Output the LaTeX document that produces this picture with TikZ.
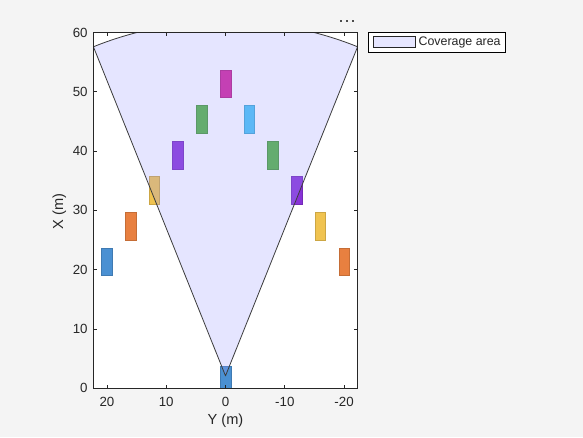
\documentclass[tikz,border=0pt]{standalone}
\usepackage{fontspec}
\setmainfont{Liberation Sans}
\usetikzlibrary{positioning, fit, backgrounds}

\definecolor{figbg}{RGB}{244,244,244}
\definecolor{axcol}{RGB}{38,38,38}
\definecolor{covfill}{RGB}{153,153,255}
\definecolor{covline}{RGB}{60,60,60}
\definecolor{carblue}{RGB}{74,144,210}
\definecolor{carorange}{RGB}{232,128,64}
\definecolor{caryellow}{RGB}{240,195,80}
\definecolor{carpurple}{RGB}{136,50,215}
\definecolor{cargreen}{RGB}{83,179,64}
\definecolor{carmagenta}{RGB}{211,35,155}
\definecolor{carcyan}{RGB}{72,195,243}

\begin{document}
\begin{tikzpicture}[
    font=\fontsize{13.3}{16}\selectfont,
    car/.style={fill=#1, draw=#1!85!black, line width=0.5pt},
    tick/.style={draw=axcol, line width=0.8pt},
    ticklabel/.style={text=axcol, inner sep=0pt},
    coverage/.style={fill=covfill, fill opacity=0.25, draw=covline, line width=0.8pt, line join=round},
    axislabel/.style={text=axcol, inner sep=0pt, font=\fontsize{14.6}{17}\selectfont},
    legendpatch/.style={draw=axcol, fill=covfill!25!white, minimum width=42.3pt, minimum height=10.6pt, inner sep=0pt, line width=0.8pt},
    legendtext/.style={text=axcol, inner sep=0pt, font=\fontsize{12.4}{15}\selectfont},
    legendbox/.style={draw=black, fill=white, line width=0.8pt, inner xsep=4.2pt, inner ysep=4pt},
    dotcol/.style={fill=black!70}
]

% Figure
\begin{scope}[on background layer]
\fill[figbg] (0,0) rectangle (583pt,437pt);
\end{scope}
\useasboundingbox (0,0) rectangle (583pt,437pt);

\begin{scope}[x=1pt, y=1pt]
\foreach \d in {341,347,353.3} \fill[dotcol] (\d-1.1,414.9) rectangle ++(2.2,2.2);
\end{scope}

\begin{scope}[shift={(225.5pt,48.7pt)}, x=-5.93pt, y=5.93pt]

% Axes
\coordinate (bl) at (22.28,0);
\coordinate (tr) at (-22.28,60);
\fill[white] (bl) rectangle (tr);

\begin{scope}
\clip (bl) rectangle (tr);
% Vehicles
\draw[car=carblue] (0.9,-1) rectangle (-0.9,3.7);
\draw[car=carblue] (20.9,19) rectangle (19.1,23.7);
\draw[car=carorange] (16.9,25) rectangle (15.1,29.7);
\draw[car=caryellow] (12.9,31) rectangle (11.1,35.7);
\draw[car=carpurple] (8.9,37) rectangle (7.1,41.7);
\draw[car=cargreen] (4.9,43) rectangle (3.1,47.7);
\draw[car=carmagenta] (0.9,49) rectangle (-0.9,53.7);
\draw[car=carcyan] (-3.1,43) rectangle (-4.9,47.7);
\draw[car=cargreen] (-7.1,37) rectangle (-8.9,41.7);
\draw[car=carpurple] (-11.1,31) rectangle (-12.9,35.7);
\draw[car=caryellow] (-15.1,25) rectangle (-16.9,29.7);
\draw[car=carorange] (-19.1,19) rectangle (-20.9,23.7);
% Coverage area
\path[coverage] (0,2.1) -- ++(68.13:59.8) arc[start angle=68.13, end angle=111.87, radius=59.8] -- cycle;
\end{scope}

% Ticks and labels
\foreach \t [count=\i] in {20,10,0,-10,-20} {
  \draw[tick] (\t,0) -- ++(0pt,3.5pt);
  \draw[tick] (\t,60) -- ++(0pt,-3.5pt);
  \node[ticklabel, anchor=north, yshift=-8.4pt] (ytick\i) at (\t,0) {\t};
}
\foreach \t [count=\i] in {0,10,...,60} {
  \draw[tick] (22.28,\t) -- ++(3.5pt,0pt);
  \draw[tick] (-22.28,\t) -- ++(-3.5pt,0pt);
  \node[ticklabel, anchor=east, xshift=-5.6pt] (xtick\i) at (22.28,\t) {\t};
}
\draw[tick] (bl) rectangle (tr);

\node[axislabel] (ylabel) at (0,-5.51) {Y (m)};
\node[axislabel, rotate=90] (xlabel) at (28.0,29.8) {X (m)};

% Legend
\node[legendpatch, below right=4pt and 15pt of tr] (legpatch) {};
\node[legendtext, right=2.7pt of legpatch] (legtext) {Coverage area};
\begin{scope}[on background layer]
\node[legendbox, fit=(legpatch)(legtext)] (legend) {};
\end{scope}

\end{scope}

\end{tikzpicture}
\end{document}
